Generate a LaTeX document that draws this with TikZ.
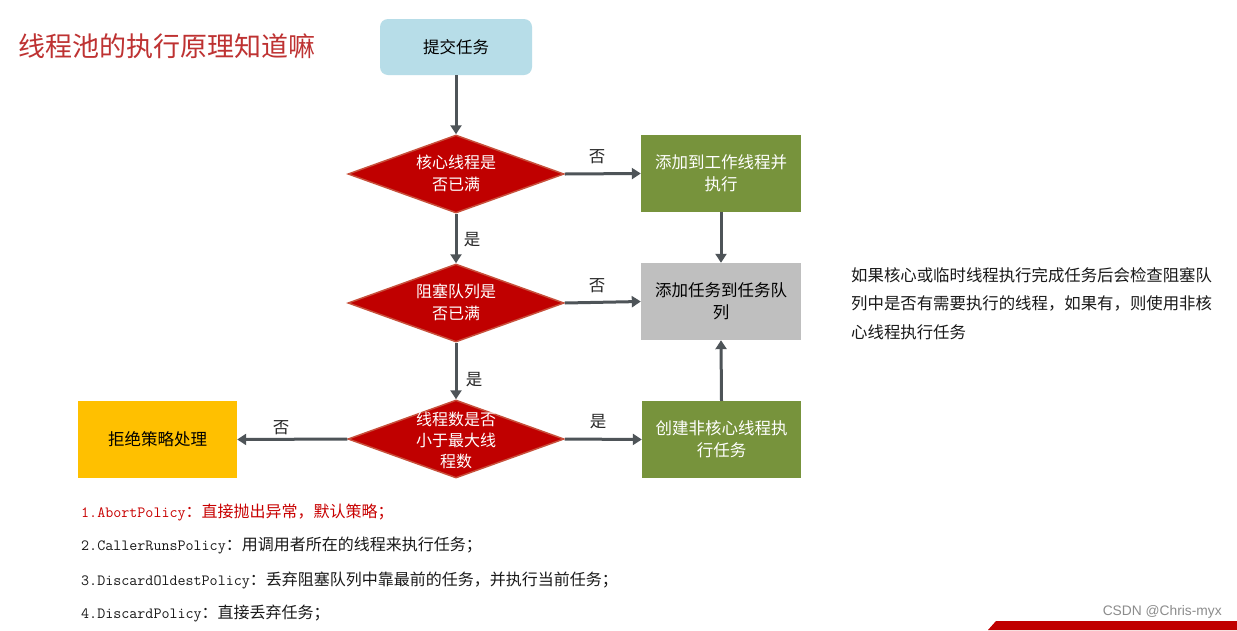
\documentclass[tikz,border=0pt]{standalone}
\usepackage{fontspec}
\setsansfont{Liberation Sans}
\newfontfamily\cjk{Noto Sans CJK SC}
\usetikzlibrary{shapes.geometric,arrows.meta}
\definecolor{diafill}{RGB}{192,0,0}
\definecolor{diaborder}{RGB}{200,80,60}
\definecolor{greenbox}{RGB}{119,147,60}
\definecolor{graybox}{RGB}{191,191,191}
\definecolor{yellowbox}{RGB}{255,192,0}
\definecolor{bluebox}{RGB}{183,221,232}
\definecolor{arrowc}{RGB}{78,84,88}
\definecolor{titlec}{RGB}{190,50,50}
\definecolor{polred}{RGB}{200,0,0}
\definecolor{stripred}{RGB}{192,0,0}
\begin{document}
\begin{tikzpicture}[x=1pt,y=-1pt,
  bx/.style={rectangle, minimum width=160pt, minimum height=77pt, inner sep=0pt, align=center,
    font=\cjk\fontsize{16.5}{22}\selectfont},
  dia/.style={diamond, draw=diaborder, line width=1.5pt, fill=diafill, minimum width=216pt,
    minimum height=78pt, inner sep=0pt},
  dtext/.style={text=white, align=center, inner sep=0pt, font=\cjk\fontsize{16}{22}\selectfont},
  arr/.style={draw=arrowc, line width=3pt, -{Triangle[length=9pt,width=11pt]}},
  lab/.style={inner sep=0pt, text=black!85, font=\cjk\fontsize{16.5}{20}\selectfont},
  pol/.style={anchor=west, inner sep=0pt, font=\cjk\fontsize{16}{18}\selectfont},
  side/.style={anchor=west, inner sep=0pt, text=black!90, font=\cjk\fontsize{16.4}{20}\selectfont}
]
\useasboundingbox (0,0) rectangle (1237,630);
\fill[white] (0,0) rectangle (1237,630);

% title
\node[anchor=west, inner sep=0pt, text=titlec, font=\cjk\fontsize{27}{30}\selectfont] (title) at (18,46) {线程池的执行原理知道嘛};

% nodes
\node[bx, fill=bluebox, minimum width=152pt, minimum height=56pt, rounded corners=8pt] (start) at (456,47) {提交任务};
\node[dia] (d1) at (456,174) {};
\node[dtext] (t1) at (456,173) {核心线程是\\否已满};
\node[dia] (d2) at (456,303) {};
\node[dtext] (t2) at (456,302) {阻塞队列是\\否已满};
\node[dia] (d3) at (456,439) {};
\node[dtext, font=\cjk\fontsize{16}{21}\selectfont] (t3) at (456,440) {线程数是否\\小于最大线\\程数};

\node[bx, fill=greenbox, text=white] (g1) at (721,173.5) {添加到工作线程并\\执行};
\node[bx, fill=graybox, text=black] (q) at (721,301.5) {添加任务到任务队\\列};
\node[bx, fill=greenbox, text=white, minimum width=159pt] (g2) at (721.5,439.5) {创建非核心线程执\\行任务};
\node[bx, fill=yellowbox, text=black, minimum width=159pt] (rej) at (157.5,439.5) {拒绝策略处理};

% connectors
\draw[arr] (start.south) -- (d1.north);
\draw[arr] (d1.east) -- (g1.west);
\draw[arr] (d1.south) -- (d2.north);
\draw[arr] (d2.east) -- (q.west);
\draw[arr] (d2.south) -- (d3.north);
\draw[arr] (d3.west) -- (rej.east);
\draw[arr] (d3.east) -- (g2.west);
\draw[arr] (g1.south) -- (q.north);
\draw[arr] (g2.north) -- (q.south);

% labels
\node[lab] (l1) at (597,157) {否};
\node[lab] (l2) at (472,240) {是};
\node[lab] (l3) at (597,286) {否};
\node[lab] (l4) at (474,380) {是};
\node[lab] (l5) at (281,428) {否};
\node[lab] (l6) at (598,422) {是};

% side note
\node[side] (s1) at (851,275) {如果核心或临时线程执行完成任务后会检查阻塞队};
\node[side] (s2) at (851,303.5) {列中是否有需要执行的线程，如果有，则使用非核};
\node[side] (s3) at (851,332) {心线程执行任务};

% policies
\node[pol, text=polred] (p1) at (81,513) {{\ttfamily\fontsize{15.6}{18}\selectfont 1.AbortPolicy}：直接抛出异常，默认策略；};
\node[pol, text=black!90] (p2) at (81,546) {{\ttfamily\fontsize{15.6}{18}\selectfont 2.CallerRunsPolicy}：用调用者所在的线程来执行任务；};
\node[pol, text=black!90] (p3) at (81,580) {{\ttfamily\fontsize{15.6}{18}\selectfont 3.DiscardOldestPolicy}：丢弃阻塞队列中靠最前的任务，并执行当前任务；};
\node[pol, text=black!90] (p4) at (81,613) {{\ttfamily\fontsize{15.6}{18}\selectfont 4.DiscardPolicy}：直接丢弃任务；};

% watermark and strip
\fill[stripred] (988,630) -- (996,621) -- (1237,621) -- (1237,630) -- cycle;
\node[anchor=east, inner sep=0pt, text=black!45, font=\sffamily\fontsize{13.8}{16}\selectfont] (wm) at (1222,612) {CSDN @Chris-myx};
\end{tikzpicture}
\end{document}
